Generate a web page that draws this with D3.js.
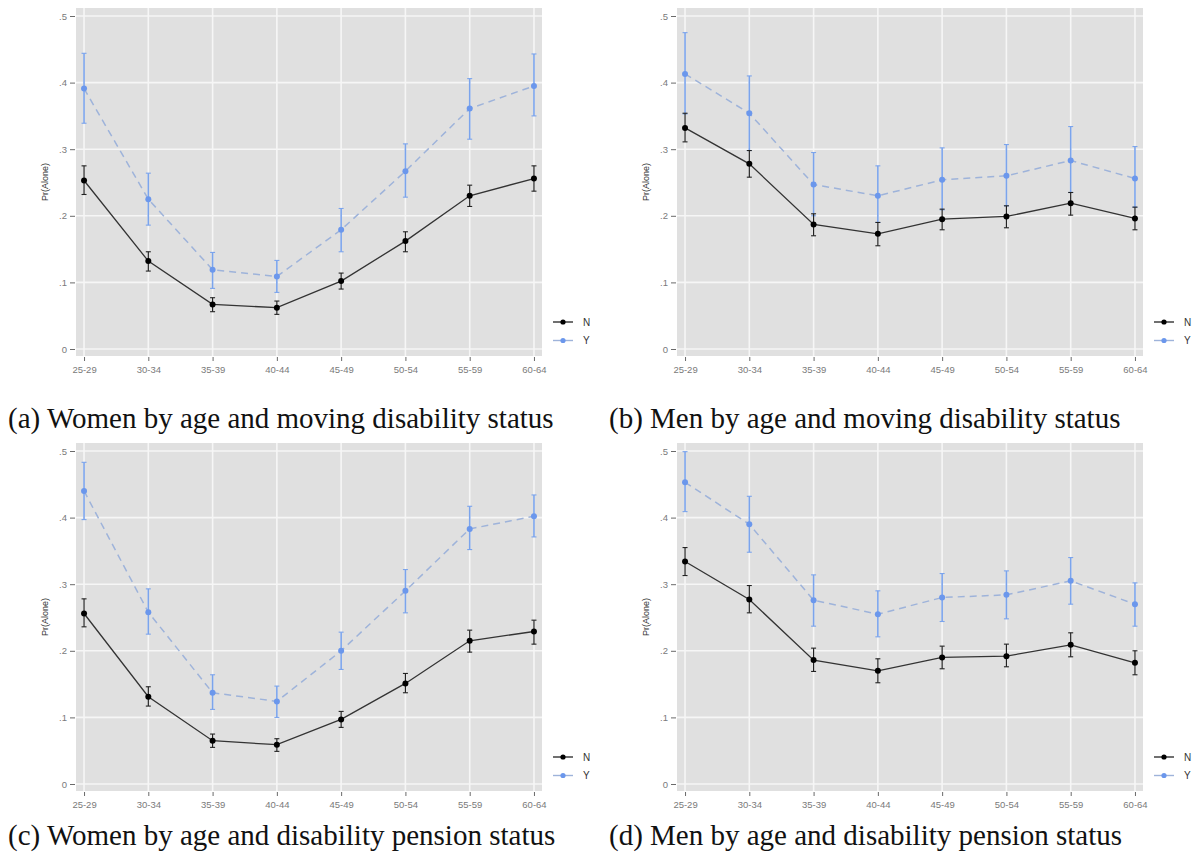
<!DOCTYPE html>
<html>
<head>
<meta charset="utf-8">
<script src="https://cdn.jsdelivr.net/npm/d3@7"></script>
<style>
  body { margin: 0; background: #fff; }
  svg { display: block; }
</style>
</head>
<body>
<script>
// Age groups on the x axis
var ages = ["25-29", "30-34", "35-39", "40-44", "45-49", "50-54", "55-59", "60-64"];
var yTicks = [0, 0.1, 0.2, 0.3, 0.4, 0.5];

// (a) Women, moving disability
var aN   = [0.253, 0.132, 0.067, 0.062, 0.102, 0.162, 0.230, 0.256];
var aNlo = [0.232, 0.117, 0.056, 0.052, 0.090, 0.146, 0.214, 0.237];
var aNhi = [0.275, 0.146, 0.077, 0.072, 0.114, 0.176, 0.246, 0.275];
var aY   = [0.391, 0.225, 0.119, 0.109, 0.179, 0.267, 0.361, 0.395];
var aYlo = [0.339, 0.186, 0.091, 0.085, 0.146, 0.228, 0.315, 0.350];
var aYhi = [0.444, 0.264, 0.145, 0.133, 0.211, 0.308, 0.406, 0.443];

// (b) Men, moving disability
var bN   = [0.332, 0.278, 0.187, 0.173, 0.195, 0.199, 0.219, 0.196];
var bNlo = [0.311, 0.258, 0.170, 0.155, 0.179, 0.182, 0.201, 0.179];
var bNhi = [0.354, 0.298, 0.203, 0.190, 0.210, 0.215, 0.235, 0.213];
var bY   = [0.413, 0.354, 0.247, 0.230, 0.254, 0.260, 0.283, 0.256];
var bYlo = [0.353, 0.298, 0.200, 0.190, 0.209, 0.215, 0.235, 0.213];
var bYhi = [0.475, 0.410, 0.295, 0.275, 0.302, 0.307, 0.334, 0.304];

// (c) Women, disability pension
var cN   = [0.256, 0.131, 0.065, 0.059, 0.097, 0.151, 0.215, 0.229];
var cNlo = [0.236, 0.117, 0.055, 0.049, 0.085, 0.137, 0.198, 0.210];
var cNhi = [0.278, 0.146, 0.075, 0.068, 0.109, 0.166, 0.231, 0.246];
var cY   = [0.440, 0.258, 0.137, 0.124, 0.200, 0.290, 0.383, 0.402];
var cYlo = [0.397, 0.225, 0.112, 0.100, 0.172, 0.257, 0.352, 0.371];
var cYhi = [0.483, 0.293, 0.164, 0.147, 0.228, 0.322, 0.417, 0.434];

// (d) Men, disability pension
var dN   = [0.334, 0.277, 0.186, 0.170, 0.190, 0.192, 0.209, 0.182];
var dNlo = [0.313, 0.257, 0.169, 0.152, 0.173, 0.176, 0.191, 0.164];
var dNhi = [0.355, 0.298, 0.204, 0.188, 0.207, 0.210, 0.227, 0.200];
var dY   = [0.453, 0.390, 0.276, 0.255, 0.280, 0.284, 0.305, 0.270];
var dYlo = [0.409, 0.348, 0.237, 0.221, 0.244, 0.248, 0.270, 0.237];
var dYhi = [0.499, 0.432, 0.314, 0.290, 0.316, 0.320, 0.340, 0.302];

var captions = [
  "(a) Women by age and moving disability status",
  "(b) Men by age and moving disability status",
  "(c) Women by age and disability pension status",
  "(d) Men by age and disability pension status"
];

var w = 1194, h = 863;
var svg = d3.select("body").append("svg")
    .attr("width", w)
    .attr("height", h)
    .style("background", "#fff");

var blue = "#6b97ec";

function drawPanel(ox, oy, n, nlo, nhi, yv, ylo, yhi, caption, capY, clipRight) {
  var left = ox + 76, right = ox + 542, top = oy + 8, bottom = oy + 356;

  var xScale = d3.scalePoint()
      .domain(ages)
      .range([left, right])
      .padding(0.125);
  var yScale = d3.scaleLinear()
      .domain([0, 0.5])
      .range([oy + 349, oy + 16]);

  var clipId = "clip" + ox + "_" + oy;
  svg.append("clipPath").attr("id", clipId)
     .append("rect").attr("x", ox).attr("y", oy).attr("width", clipRight - ox).attr("height", 400);

  var g = svg.append("g").attr("clip-path", "url(#" + clipId + ")");

  // grey panel
  g.append("rect")
   .attr("x", left).attr("y", top)
   .attr("width", right - left).attr("height", bottom - top)
   .attr("fill", "#e0e0e0");

  // white grid lines
  g.selectAll(".hgrid")
   .data(yTicks)
   .enter().append("line")
   .attr("x1", left).attr("x2", right)
   .attr("y1", function(d) { return yScale(d); })
   .attr("y2", function(d) { return yScale(d); })
   .attr("stroke", "#f6f6f6").attr("stroke-width", 1.6);
  g.selectAll(".vgrid")
   .data(ages)
   .enter().append("line")
   .attr("x1", function(d) { return xScale(d); })
   .attr("x2", function(d) { return xScale(d); })
   .attr("y1", top).attr("y2", bottom)
   .attr("stroke", "#f6f6f6").attr("stroke-width", 1.6);

  // axes
  var yAxis = d3.axisLeft(yScale)
      .tickValues(yTicks)
      .tickSize(5)
      .tickPadding(3)
      .tickFormat(function(d) { return d === 0 ? "0" : d3.format(".1f")(d).replace("0.", "."); });
  var ya = g.append("g")
      .attr("transform", "translate(" + (left - 1) + ",0)")
      .call(yAxis);
  var xAxis = d3.axisBottom(xScale).tickSize(4).tickPadding(5);
  var xa = g.append("g")
      .attr("transform", "translate(0," + (bottom + 1) + ")")
      .call(xAxis);
  [ya, xa].forEach(function(a) {
    a.select(".domain").remove();
    a.selectAll(".tick line").attr("stroke", "#6a6a6a");
    a.selectAll(".tick text")
     .attr("fill", "#7a7a7a")
     .style("font-family", "Liberation Sans, Arial, sans-serif")
     .style("font-size", "9.5px");
  });

  g.append("text")
   .attr("transform", "rotate(-90)")
   .attr("x", -(oy + 182))
   .attr("y", ox + 48)
   .attr("text-anchor", "middle")
   .style("font-family", "Liberation Sans, Arial, sans-serif")
   .style("font-size", "9px")
   .attr("fill", "#333")
   .text("Pr(Alone)");

  var line = d3.line()
      .x(function(d, i) { return xScale(ages[i]); })
      .y(function(d) { return yScale(d); });

  // Y series: dashed line, blue bars and points
  g.append("path").datum(yv)
   .attr("d", line).attr("fill", "none")
   .attr("stroke", "#9eb3da").attr("stroke-width", 1.5)
   .attr("stroke-dasharray", "7,5");
  drawBars(g, xScale, yScale, ylo, yhi, "#7ba4ec", 1.6);
  g.selectAll(".ypt").data(yv).enter().append("circle")
   .attr("cx", function(d, i) { return xScale(ages[i]); })
   .attr("cy", function(d) { return yScale(d); })
   .attr("r", 3).attr("fill", blue);

  // N series: solid black line
  g.append("path").datum(n)
   .attr("d", line).attr("fill", "none")
   .attr("stroke", "#333").attr("stroke-width", 1.3);
  drawBars(g, xScale, yScale, nlo, nhi, "#222", 1.2);
  g.selectAll(".npt").data(n).enter().append("circle")
   .attr("cx", function(d, i) { return xScale(ages[i]); })
   .attr("cy", function(d) { return yScale(d); })
   .attr("r", 3).attr("fill", "#000");

  // legend
  var legend = [{k: "N", c: "#000", l: "#333", y: oy + 322}, {k: "Y", c: blue, l: "#9eb3da", y: oy + 340.5}];
  legend.forEach(function(d) {
    g.append("line").attr("x1", ox + 553).attr("x2", ox + 573)
     .attr("y1", d.y).attr("y2", d.y).attr("stroke", d.l).attr("stroke-width", 1.4);
    g.append("circle").attr("cx", ox + 563).attr("cy", d.y).attr("r", 2.6).attr("fill", d.c);
    g.append("text").attr("x", ox + 583).attr("y", d.y + 3.5)
     .style("font-family", "Liberation Sans, Arial, sans-serif")
     .style("font-size", "10px").attr("fill", "#333").text(d.k);
  });

  svg.append("text")
   .attr("x", ox + 8)
   .attr("y", capY)
   .style("font-family", "Liberation Serif, Times New Roman, serif")
   .style("font-size", "29px")
   .attr("fill", "#111")
   .text(caption);
}

function drawBars(g, xScale, yScale, lo, hi, color, width) {
  var cap = 2.5;
  lo.forEach(function(v, i) {
    var x = xScale(ages[i]);
    g.append("line").attr("x1", x).attr("x2", x)
     .attr("y1", yScale(v)).attr("y2", yScale(hi[i]))
     .attr("stroke", color).attr("stroke-width", width);
    [v, hi[i]].forEach(function(e) {
      g.append("line").attr("x1", x - cap).attr("x2", x + cap)
       .attr("y1", yScale(e)).attr("y2", yScale(e))
       .attr("stroke", color).attr("stroke-width", 1.1);
    });
  });
}

drawPanel(0, 0, aN, aNlo, aNhi, aY, aYlo, aYhi, captions[0], 428, 590);
drawPanel(601, 0, bN, bNlo, bNhi, bY, bYlo, bYhi, captions[1], 428, 1194);
drawPanel(0, 435, cN, cNlo, cNhi, cY, cYlo, cYhi, captions[2], 845, 590);
drawPanel(601, 435, dN, dNlo, dNhi, dY, dYlo, dYhi, captions[3], 845, 1194);
</script>
</body>
</html>
